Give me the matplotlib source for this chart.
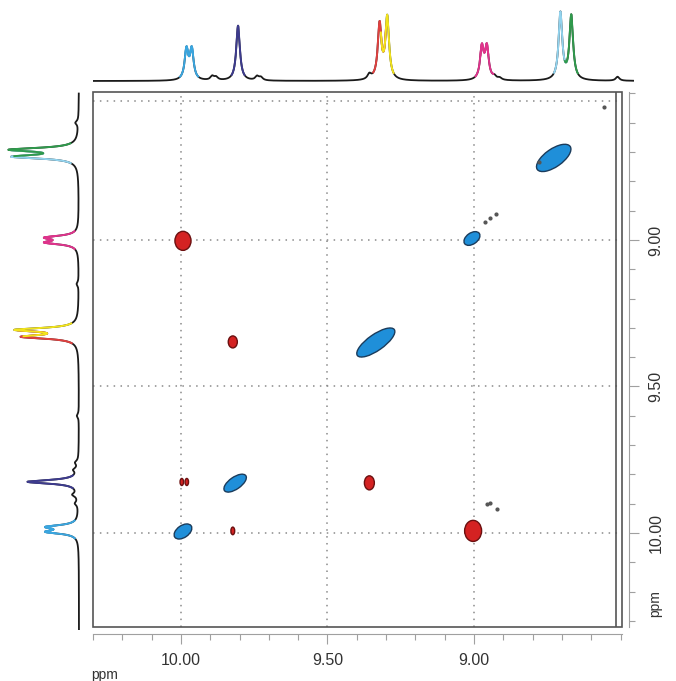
import numpy as np
import matplotlib.pyplot as plt
from matplotlib.patches import Ellipse, Rectangle

# 1D projection: peaks (ppm), intensity, colour of the multiplet
top_ppm = [9.981, 9.963, 9.805, 9.322, 9.296, 8.973, 8.956, 8.705, 8.668]
left_ppm = [9.997, 9.980, 9.826, 9.331, 9.307, 9.009, 8.992, 8.716, 8.692]
top_int = [30, 30, 55, 55, 62, 32, 32, 67, 64]
left_int = [29, 29, 51, 53, 60, 30, 30, 62, 65]
peak_col = ['#3aa6e0', '#3aa6e0', '#3d3b8e', '#e0403f', '#f2e41c',
            '#e0338c', '#e0338c', '#92d3ee', '#2f9a4c']

# small bumps on the baselines (ppm, intensity)
top_bump_ppm = [9.893, 9.880, 9.740, 9.727, 9.357, 8.930, 8.912, 8.510]
top_bump_int = [4, 3, 4, 3, 5, 3, 2, 4]
left_bump_ppm = [9.870, 9.900, 9.785, 9.760, 9.600, 8.600, 9.150]
left_bump_int = [5, 3, 4, 3, 2, 3, 2]

# 2D peaks: diagonal (blue) and cross peaks (red)
diag_x = [9.993, 9.815, 9.335, 9.007, 8.728]
diag_y = [9.995, 9.830, 9.350, 8.995, 8.720]
diag_len = [0.068, 0.089, 0.154, 0.061, 0.137]
diag_wid = [0.041, 0.041, 0.055, 0.038, 0.061]

cross_x = [9.993, 9.823, 9.357, 9.003, 9.997, 9.980, 9.823]
cross_y = [9.003, 9.348, 9.829, 9.993, 9.826, 9.826, 9.993]
cross_w = [0.055, 0.031, 0.034, 0.058, 0.012, 0.012, 0.013]
cross_h = [0.065, 0.041, 0.048, 0.072, 0.024, 0.024, 0.026]

dot_x = [8.962, 8.945, 8.925, 8.956, 8.945, 8.922, 8.556, 8.778]
dot_y = [8.939, 8.925, 8.911, 9.901, 9.898, 9.918, 8.546, 8.734]

gamma = 0.0075


def spectrum(ppm, centres, heights):
    y = np.zeros_like(ppm)
    for c, h in zip(centres, heights):
        y += h / (1 + ((ppm - c) / gamma) ** 2)
    return y


W, H = 676, 681
fig = plt.figure(figsize=(W / 100, H / 100), dpi=100)
plt.rcParams['font.family'] = ['Liberation Sans', 'DejaVu Sans']

# main 2D panel
ax = fig.add_axes([93 / W, 1 - 627 / H, 529 / W, 535 / H])
ax.set_xlim(10.30, 8.495)
ax.set_ylim(10.321, 8.495)

grid = dict(color='#8a8a8a', lw=1.1, ls=(0, (1, 3.5)), zorder=1)
for v in [10.0, 9.5, 9.0]:
    ax.axvline(v, **grid)
    ax.axhline(v, **grid)
ax.axhline(8.525, **grid)
ax.axvline(8.515, color='#555555', lw=1.2, zorder=1)

for x, y, l, w in zip(diag_x, diag_y, diag_len, diag_wid):
    ax.add_patch(Ellipse((x, y), l, w, angle=35, facecolor='#1f8fd9',
                         edgecolor='#1b3c5c', lw=1.0, zorder=3))
for x, y, w, h in zip(cross_x, cross_y, cross_w, cross_h):
    ax.add_patch(Ellipse((x, y), w, h, angle=0, facecolor='#d42222',
                         edgecolor='#6b1010', lw=1.0, zorder=3))
ax.scatter(dot_x, dot_y, s=4, color='#555555', zorder=3)

# frame: top/left spines plus drawn right/bottom edges; bottom/right spines offset
ax.add_patch(Rectangle((0, 0), 1, 1, transform=ax.transAxes, fill=False,
                       edgecolor='#555555', lw=1.2, zorder=4, clip_on=False))
for s in ['top', 'left']:
    ax.spines[s].set_visible(False)
for s in ['bottom', 'right']:
    ax.spines[s].set_position(('outward', 5))
    ax.spines[s].set_color('#a0a0a0')
    ax.spines[s].set_linewidth(0.8)

ax.set_xticks([10.0, 9.5, 9.0])
ax.set_xticklabels(['10.00', '9.50', '9.00'])
ax.set_xticks(np.arange(8.5, 10.31, 0.1), minor=True)
ax.set_yticks([10.0, 9.5, 9.0])
ax.set_yticklabels(['10.00', '9.50', '9.00'], rotation=90, va='center')
ax.set_yticks(np.arange(8.5, 10.31, 0.1), minor=True)
ax.yaxis.tick_right()
ax.tick_params(which='major', length=7, width=0.8, color='#a0a0a0',
               labelsize=11.5, labelcolor='#333333', pad=7)
ax.tick_params(which='minor', length=4.5, width=0.8, color='#a0a0a0')

fig.text(105 / W, 1 - 675 / H, 'ppm', fontsize=10, color='#333333',
         ha='center', va='center')
fig.text(655 / W, 1 - 604 / H, 'ppm', fontsize=10, color='#333333',
         ha='center', va='center', rotation=90)

# top projection
ppm = np.linspace(8.40, 10.36, 6000)
axt = fig.add_axes([93 / W, 1 - 88 / H, 541 / W, 86 / H])
axt.set_xlim(10.30, 8.454)
axt.set_ylim(-7, 79)
axt.axis('off')
yt = spectrum(ppm, top_ppm + top_bump_ppm, top_int + top_bump_int)
axt.plot(ppm, yt, color='#1a1a1a', lw=1.3)
for c, col in zip(top_ppm, peak_col):
    m = np.abs(ppm - c) < 0.022
    axt.plot(ppm[m], yt[m], color=col, lw=1.4)

# left projection
axl = fig.add_axes([2 / W, 1 - 630 / H, 88 / W, 538 / H])
axl.set_ylim(10.332, 8.495)
axl.set_xlim(77, -11)
axl.axis('off')
yl = spectrum(ppm, left_ppm + left_bump_ppm, left_int + left_bump_int)
m0 = (ppm > 8.50) & (ppm < 10.33)
axl.plot(yl[m0], ppm[m0], color='#1a1a1a', lw=1.3)
for c, col in zip(left_ppm, peak_col):
    m = np.abs(ppm - c) < 0.022
    axl.plot(yl[m], ppm[m], color=col, lw=1.4)

fig.savefig('out.png', dpi=100)
